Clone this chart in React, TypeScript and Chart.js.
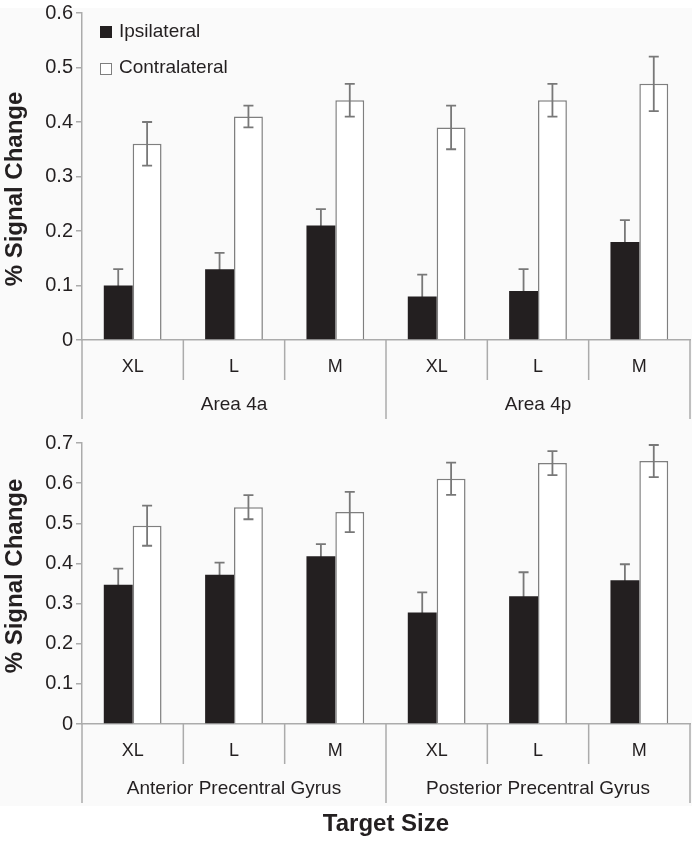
import React, { useEffect, useRef } from 'react';
import { Chart, registerables } from 'chart.js';
Chart.register(...registerables);

// ---------- data ----------
const sizeLabels = ['XL', 'L', 'M', 'XL', 'L', 'M'];
const seriesNames = ['Ipsilateral', 'Contralateral'];
const topGroups = ['Area 4a', 'Area 4p'];
const bottomGroups = ['Anterior Precentral Gyrus', 'Posterior Precentral Gyrus'];

const topIpsi = [0.10, 0.13, 0.21, 0.08, 0.09, 0.18];
const topIpsiErr = [0.03, 0.03, 0.03, 0.04, 0.04, 0.04];
const topContra = [0.36, 0.41, 0.44, 0.39, 0.44, 0.47];
const topContraErr = [0.04, 0.02, 0.03, 0.04, 0.03, 0.05];

const botIpsi = [0.347, 0.372, 0.418, 0.278, 0.318, 0.358];
const botIpsiErr = [0.04, 0.03, 0.03, 0.05, 0.06, 0.04];
const botContra = [0.494, 0.54, 0.528, 0.611, 0.65, 0.655];
const botContraErr = [0.05, 0.03, 0.05, 0.04, 0.03, 0.04];

const topYMax = 0.6;
const botYMax = 0.7;
const yStep = 0.1;
const yAxisTitle = '% Signal Change';
const xAxisTitle = 'Target Size';

// ---------- styles ----------
const FONT = "'Liberation Sans', Arial, Helvetica, sans-serif";
const TEXT = '#231f20';
const AXIS = '#ababab';
const ERR = '#787878';
const BLACK = '#231f20';
const BORDER = '#7f7f7f';

type PanelProps = {
  ipsi: number[];
  ipsiErr: number[];
  contra: number[];
  contraErr: number[];
  groups: string[];
  yMax: number;
  height: number;
  padTop: number;
  xScaleHeight: number;
  yTitleY: number;
  showLegend: boolean;
  showXTitle: boolean;
  bgBottom: number;
};

function Panel(p: PanelProps) {
  const ref = useRef<HTMLCanvasElement | null>(null);
  useEffect(() => {
    if (!ref.current) return;
    const errs = [p.ipsiErr, p.contraErr];

    const drawErr = (chart: any, di: number) => {
      const ctx = chart.ctx;
      const ys = chart.scales.y;
      const meta = chart.getDatasetMeta(di);
      const vals = chart.data.datasets[di].data as number[];
      ctx.save();
      ctx.strokeStyle = ERR;
      ctx.lineWidth = 1.8;
      meta.data.forEach((bar: any, j: number) => {
        const v = vals[j];
        const e = errs[di][j];
        const x = bar.x;
        const y1 = ys.getPixelForValue(v + e);
        const y2 = ys.getPixelForValue(v - e);
        ctx.beginPath();
        ctx.moveTo(x, y1);
        ctx.lineTo(x, y2);
        ctx.moveTo(x - 5, y1);
        ctx.lineTo(x + 5, y1);
        ctx.moveTo(x - 5, y2);
        ctx.lineTo(x + 5, y2);
        ctx.stroke();
      });
      ctx.restore();
    };

    const bgPlugin = {
      id: 'bg',
      beforeDraw(chart: any) {
        const ctx = chart.ctx;
        ctx.save();
        ctx.fillStyle = '#ffffff';
        ctx.fillRect(0, 0, chart.width, chart.height);
        ctx.fillStyle = '#fafafa';
        ctx.fillRect(0, p.showLegend ? 8 : 0, chart.width, p.bgBottom - (p.showLegend ? 8 : 0));
        ctx.restore();
      },
    };

    const errPlugin = {
      id: 'errbars',
      beforeDatasetsDraw(chart: any) {
        drawErr(chart, 0);
      },
      afterDatasetsDraw(chart: any) {
        drawErr(chart, 1);
      },
    };

    const catPlugin = {
      id: 'cataxis',
      afterDraw(chart: any) {
        const ctx = chart.ctx;
        const xs = chart.scales.x;
        const area = chart.chartArea;
        const n = sizeLabels.length;
        const px = (i: number) => xs.getPixelForValue(i);
        const w = px(1) - px(0);
        const base = area.bottom;
        ctx.save();
        ctx.strokeStyle = AXIS;
        ctx.lineWidth = 1.5;
        for (let b = 0; b <= n; b++) {
          const x = px(0) - w / 2 + b * w;
          const long = b % 3 === 0;
          ctx.beginPath();
          ctx.moveTo(x, base);
          ctx.lineTo(x, base + (long ? 79 : 40));
          ctx.stroke();
        }
        ctx.fillStyle = TEXT;
        ctx.textAlign = 'center';
        ctx.textBaseline = 'middle';
        ctx.font = `18px ${FONT}`;
        sizeLabels.forEach((s, i) => ctx.fillText(s, px(i), base + 27));
        ctx.font = `19px ${FONT}`;
        p.groups.forEach((g, gi) => {
          const cx = (px(gi * 3) + px(gi * 3 + 2)) / 2;
          ctx.fillText(g, cx, base + 65);
        });
        // y title
        ctx.save();
        ctx.font = `bold 24px ${FONT}`;
        ctx.translate(15, p.yTitleY);
        ctx.rotate(-Math.PI / 2);
        ctx.fillText(yAxisTitle, 0, 0);
        ctx.restore();
        if (p.showXTitle) {
          ctx.font = `bold 24px ${FONT}`;
          ctx.fillText(xAxisTitle, (area.left + area.right) / 2, base + 100);
        }
        if (p.showLegend) {
          ctx.textAlign = 'left';
          ctx.font = `19px ${FONT}`;
          const ds = chart.data.datasets;
          const rows = [32, 68];
          ds.forEach((d: any, i: number) => {
            const cy = rows[i];
            ctx.fillStyle = d.backgroundColor;
            ctx.fillRect(100, cy - 6 + i, 12, 12);
            if (i === 1) {
              ctx.strokeStyle = BORDER;
              ctx.lineWidth = 1;
              ctx.strokeRect(100.5, cy - 5.5 + i, 11, 11);
            }
            ctx.fillStyle = TEXT;
            ctx.fillText(d.label, 119, cy);
          });
        }
        ctx.restore();
      },
    };

    const chart = new Chart(ref.current, {
      type: 'bar',
      data: {
        labels: sizeLabels,
        datasets: [
          {
            label: seriesNames[0],
            data: p.ipsi,
            backgroundColor: BLACK,
            borderWidth: 0,
            categoryPercentage: 0.57,
            barPercentage: 1,
          },
          {
            label: seriesNames[1],
            data: p.contra,
            backgroundColor: '#ffffff',
            borderColor: BORDER,
            borderWidth: 1.5,
            categoryPercentage: 0.57,
            barPercentage: 1,
          },
        ],
      },
      options: {
        responsive: false,
        animation: false,
        devicePixelRatio: 1,
        layout: { padding: { top: p.padTop, right: 2, left: 0, bottom: 0 } },
        plugins: { legend: { display: false }, tooltip: { enabled: false } },
        scales: {
          x: {
            type: 'category',
            grid: { display: false },
            ticks: { display: false },
            border: { display: true, color: AXIS, width: 1.5 },
            afterFit: (s: any) => {
              s.height = p.xScaleHeight;
            },
          },
          y: {
            min: 0,
            max: p.yMax,
            ticks: {
              stepSize: yStep,
              color: TEXT,
              padding: 3,
              font: { family: FONT, size: 20, lineHeight: 1 },
              callback: (v: any) => (Number(v) === 0 ? '0' : Number(v).toFixed(1)),
            },
            grid: { drawOnChartArea: false, drawTicks: true, tickLength: 6, color: AXIS, lineWidth: 1.5 },
            border: { display: true, color: AXIS, width: 1.5 },
            afterFit: (s: any) => {
              s.width = 82;
            },
          },
        },
      },
      plugins: [bgPlugin, errPlugin, catPlugin],
    } as any);
    return () => chart.destroy();
  }, []);
  return (
    <canvas ref={ref} width={692} height={p.height} style={{ display: 'block', width: 692, height: p.height }} />
  );
}

export default function App() {
  return (
    <div style={{ position: 'absolute', top: 0, left: 0, width: 692, background: '#fff' }}>
      <Panel
        ipsi={topIpsi}
        ipsiErr={topIpsiErr}
        contra={topContra}
        contraErr={topContraErr}
        groups={topGroups}
        yMax={topYMax}
        height={420}
        padTop={10}
        xScaleHeight={80}
        yTitleY={189}
        showLegend={true}
        showXTitle={false}
        bgBottom={420}
      />
      <Panel
        ipsi={botIpsi}
        ipsiErr={botIpsiErr}
        contra={botContra}
        contraErr={botContraErr}
        groups={bottomGroups}
        yMax={botYMax}
        height={422}
        padTop={23}
        xScaleHeight={118}
        yTitleY={156}
        showLegend={false}
        showXTitle={true}
        bgBottom={386}
      />
    </div>
  );
}
